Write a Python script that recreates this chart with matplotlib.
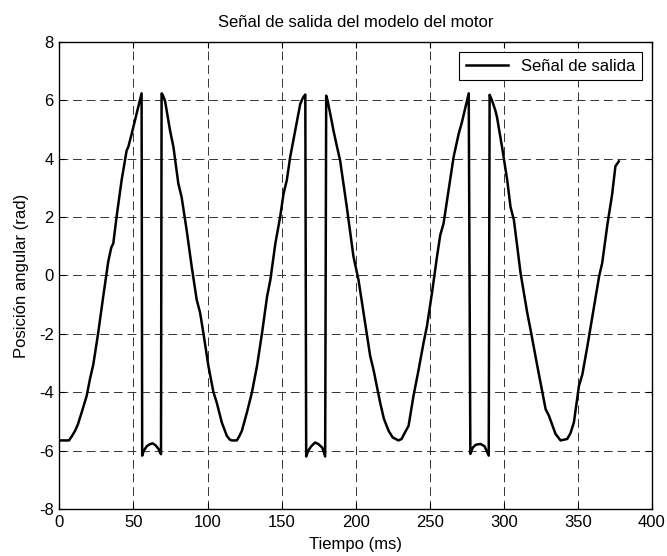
import matplotlib.pyplot as plt

# datos (tiempo en ms, posicion en rad)
tiempo = [0, 6.5, 8.5, 10.5, 12.5, 15, 18.4, 20.6, 22.9, 26.2, 29.6, 33, 35, 36.4,
          38.6, 42, 45.4, 46.5, 48.8, 52.1, 55.5, 55.9,
          57, 59, 61, 63, 65, 67, 68.6, 69.0,
          69.6, 71.3, 74.7, 77, 80.3, 82.5, 85.9, 89.3, 92.7, 95, 97.2, 100.6, 104,
          106.2, 109.6, 113, 115, 116.4, 119.8, 121.5, 123.2, 126.6, 130, 133.4,
          136.8, 140.2, 142.4, 145.8, 149, 151.3, 153.5, 155.8, 159.2, 162.6, 164.5,
          166, 166.6,
          168, 170, 172.6, 175, 177.5, 179.4, 180.1,
          181, 183, 185, 187, 189.5, 194, 198.5, 201.9, 205.3, 209.8, 212, 216.5,
          219, 222.2, 225, 228.9, 231, 233, 235.7, 239, 242.5, 245.8, 248.1, 251.5,
          254.9, 257.1, 259.3, 262.7, 266.1, 269.5, 271.7, 276.3, 277.4,
          279, 281, 284.2, 287, 289.8, 290.4,
          292, 294.3, 295.4, 298.8, 302.3, 304.5, 306.8, 311.3, 315.8, 318, 322.6,
          328.2, 330.4, 334.9, 338.3, 342.8, 345, 347.3, 350.7, 353, 356.4, 360.9,
          364.3, 366.4, 370, 373.1, 375.3, 377.6]
posicion = [-5.65, -5.65, -5.5, -5.33, -5.1, -4.7, -4.13, -3.56, -3.05, -1.97, -0.72, 0.48, 0.95, 1.1,
            2.0, 3.26, 4.28, 4.4, 4.85, 5.53, 6.24, -6.17,
            -6.0, -5.85, -5.78, -5.75, -5.82, -5.95, -6.12, 6.24,
            6.2, 5.99, 4.97, 4.4, 3.15, 2.69, 1.56, 0.31, -0.83, -1.28, -1.97, -3.1, -4.0,
            -4.35, -5.03, -5.49, -5.62, -5.65, -5.65, -5.5, -5.32, -4.69, -4.0, -3.1,
            -1.97, -0.72, -0.15, 1.1, 2.0, 2.8, 3.26, 4.06, 4.97, 5.88, 6.1,
            6.2, -6.2,
            -6.0, -5.85, -5.72, -5.78, -5.9, -6.2, 6.16,
            6.0, 5.5, 4.97, 4.5, 3.94, 2.35, 0.65, -0.15, -1.28, -2.76, -3.22, -4.35,
            -4.9, -5.32, -5.55, -5.65, -5.6, -5.4, -5.15, -4.13, -3.22, -2.31, -1.74, -0.6,
            0.65, 1.39, 1.78, 2.92, 4.06, 4.85, 5.25, 6.24, -6.11,
            -5.9, -5.8, -5.77, -5.85, -6.17, 6.19,
            6.0, 5.65, 5.42, 4.4, 3.26, 2.35, 1.9, 0.08, -1.28, -1.85, -3.1,
            -4.58, -4.8, -5.43, -5.65, -5.6, -5.4, -5.03, -3.78, -3.39, -2.42, -1.06,
            -0.03, 0.43, 1.78, 2.78, 3.74, 3.91]

plt.rcParams['font.family'] = ['Liberation Sans', 'DejaVu Sans']
plt.rcParams['axes.unicode_minus'] = False

fig = plt.figure(figsize=(6.67, 5.56), dpi=100)
ax = fig.add_axes([0.089, 0.0845, 0.8885, 0.84])

ax.plot(tiempo, posicion, color='black', linewidth=1.8, label='Señal de salida')

ax.set_xlim(0, 400)
ax.set_ylim(-8, 8)
ax.set_xticks(range(0, 401, 50))
ax.set_yticks(range(-8, 9, 2))
ax.grid(True, color='0.2', linestyle=(0, (9, 5)), linewidth=0.7)
ax.tick_params(direction='in', top=True, right=True, length=4, labelsize=12, pad=4)
for s in ax.spines.values():
    s.set_linewidth(1.0)

ax.set_title('Señal de salida del modelo del motor', fontsize=12, pad=11)
ax.set_xlabel('Tiempo (ms)', fontsize=12, labelpad=5)
ax.set_ylabel('Posición angular (rad)', fontsize=12, labelpad=7)

leg = ax.legend(loc='upper right', fontsize=12, fancybox=False, framealpha=1,
                edgecolor='black', handlelength=2.5, borderaxespad=0.6)
leg.get_frame().set_linewidth(0.8)

fig.savefig('out.png', dpi=100)
